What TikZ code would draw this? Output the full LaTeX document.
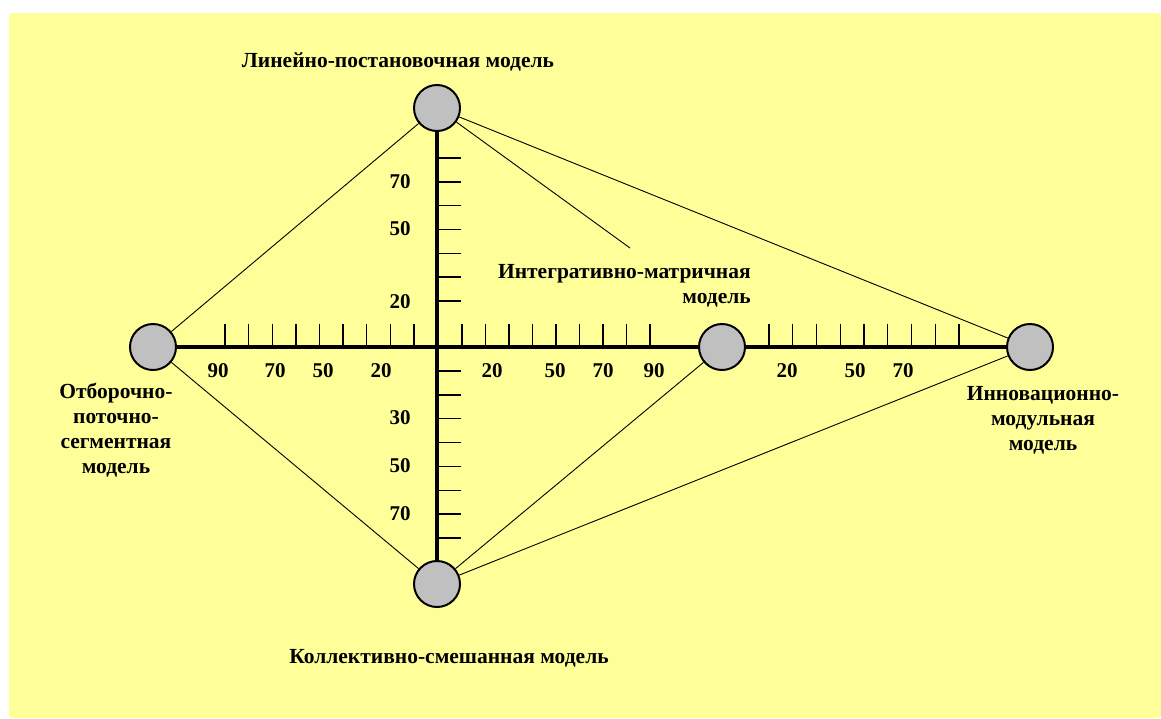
\documentclass[tikz,border=0pt]{standalone}
\usepackage{fontspec}
\setmainfont{Liberation Serif}
\definecolor{bgyellow}{HTML}{FFFF99}
\definecolor{nodegray}{HTML}{C0C0C0}
\tikzset{
  model/.style={circle, draw=black, line width=2pt, fill=nodegray, minimum size=46pt, inner sep=0pt},
  axisline/.style={line width=3.6pt},
  link/.style={line width=0.9pt},
  tickline/.style={line width=1.4pt},
  lbl/.style={font=\fontsize{21.5}{25}\selectfont\bfseries, inner sep=0pt, align=center},
  num/.style={font=\fontsize{21}{22}\selectfont\bfseries, inner sep=0pt}
}
\begin{document}
\begin{tikzpicture}[x=1pt,y=-1pt]
\useasboundingbox (0,0) rectangle (1161,718);
\fill[bgyellow, rounded corners=3pt] (9,13) rectangle (1161,718);

% model nodes
\node[model] (top) at (437,108) {};
\node[model] (bot) at (437,584) {};
\node[model] (left) at (153,347) {};
\node[model] (mid) at (722,347) {};
\node[model] (right) at (1030,347) {};
\coordinate (ie) at (630,248);

% axes
\draw[axisline] (left) -- (mid);
\draw[axisline] (mid) -- (right);
\draw[axisline] (top) -- (bot);

% ticks horizontal
\foreach \i in {0,...,8} {
  \draw[tickline] ({225+23.6*\i},324) -- ({225+23.6*\i},347);
  \draw[tickline] ({462+23.5*\i},324) -- ({462+23.5*\i},347);
  \draw[tickline] ({769+23.75*\i},324) -- ({769+23.75*\i},347);
}
% ticks vertical
\foreach \i in {0,...,6} {
  \draw[tickline] (437,{158+23.8*\i}) -- (461,{158+23.8*\i});
}
\foreach \i in {0,...,7} {
  \draw[tickline] (437,{371+23.85*\i}) -- (461,{371+23.85*\i});
}

% links
\draw[link] (top) -- (left);
\draw[link] (left) -- (bot);
\draw[link] (top) -- (right);
\draw[link] (top) -- (ie);
\draw[link] (bot) -- (mid);
\draw[link] (bot) -- (right);

% numbers
\node[num] (h1) at (218,371) {90};
\node[num] (h2) at (275,371) {70};
\node[num] (h3) at (323,371) {50};
\node[num] (h4) at (381,371) {20};
\node[num] (h5) at (492,371) {20};
\node[num] (h6) at (555,371) {50};
\node[num] (h7) at (603,371) {70};
\node[num] (h8) at (654,371) {90};
\node[num] (h9) at (787,371) {20};
\node[num] (h10) at (855,371) {50};
\node[num] (h11) at (903,371) {70};
\node[num] (v1) at (400,182) {70};
\node[num] (v2) at (400,229) {50};
\node[num] (v3) at (400,302) {20};
\node[num] (v4) at (400,418) {30};
\node[num] (v5) at (400,466) {50};
\node[num] (v6) at (400,514) {70};

% labels
\node[lbl] (ltop) at (398,62) {Линейно-постановочная модель};
\node[lbl, align=right, anchor=east] (lint) at (751,286) {Интегративно-матричная\\модель};
\node[lbl] (lleft) at (116,430) {Отборочно-\\поточно-\\сегментная\\модель};
\node[lbl] (lright) at (1043,420) {Инновационно-\\модульная\\модель};
\node[lbl] (lbot) at (449,658) {Коллективно-смешанная модель};
\end{tikzpicture}
\end{document}
